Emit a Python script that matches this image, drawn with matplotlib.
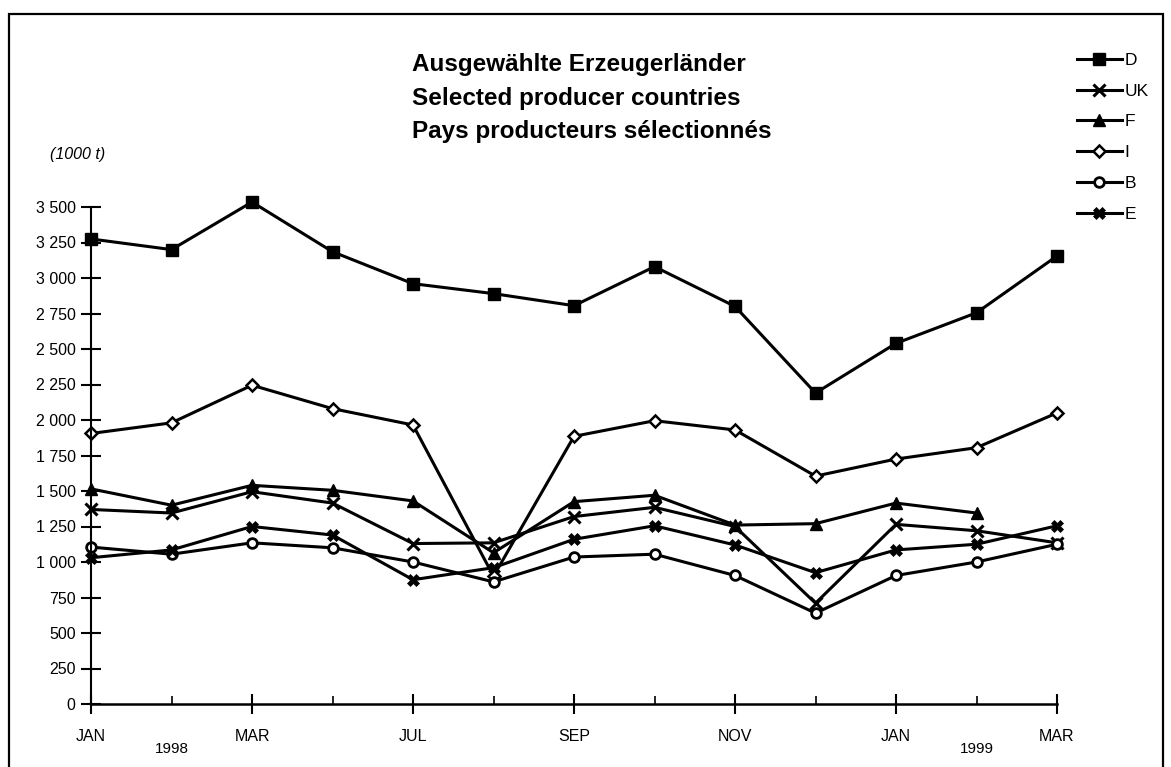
import numpy as np
import matplotlib
matplotlib.use("Agg")
import matplotlib.pyplot as plt
from matplotlib.patches import Rectangle
from matplotlib.ticker import FuncFormatter, FixedLocator

plt.rcParams['font.family'] = ['Liberation Sans', 'DejaVu Sans']

# ===== Data (1000 t) =====
month_labels = ["JAN", "MAR", "JUL", "SEP", "NOV", "JAN", "MAR"]
year_labels = {1: "1998", 11: "1999"}
x = np.arange(13)

D = [3275, 3200, 3535, 3185, 2960, 2890, 2805, 3080, 2800, 2190, 2540, 2755, 3155]
UK = [1370, 1345, 1495, 1415, 1130, 1135, 1320, 1385, 1250, 710, 1265, 1220, 1135]
F = [1515, 1400, 1540, 1505, 1430, 1065, 1425, 1470, 1260, 1270, 1415, 1345, np.nan]
I = [1905, 1980, 2245, 2080, 1965, 900, 1885, 1995, 1930, 1605, 1725, 1805, 2050]
B = [1105, 1055, 1135, 1100, 1000, 860, 1035, 1055, 905, 640, 905, 1000, 1125]
E = [1030, 1085, 1250, 1190, 875, 960, 1160, 1255, 1120, 925, 1085, 1125, 1255]

W, H = 1171, 767
fig = plt.figure(figsize=(W / 100, H / 100), dpi=100)
fig.patch.set_facecolor("white")

# axes placed in pixel coordinates of the reference
x0, x1 = 91, 1057
y0, y1 = 704, 207
ax = fig.add_axes([x0 / W, 1 - y0 / H, (x1 - x0) / W, (y0 - y1) / H])
ax.set_xlim(0, 12)
ax.set_ylim(0, 3500)

lw = 2.2
series = [
    ("D", D, dict(marker="s", ms=8, mfc="black", mec="black")),
    ("UK", UK, dict(marker="x", ms=8, mew=2.2, mec="black")),
    ("F", F, dict(marker="^", ms=8, mfc="black", mec="black")),
    ("I", I, dict(marker="D", ms=6, mfc="white", mec="black", mew=1.8)),
    ("B", B, dict(marker="o", ms=7, mfc="white", mec="black", mew=2.0)),
    ("E", E, dict(marker="X", ms=9, mfc="black", mec="black", mew=0.5)),
]
handles = []
for name, vals, style in series:
    h, = ax.plot(x, vals, color="black", lw=lw, label=name, clip_on=False, **style)
    handles.append(h)

# ===== Axes styling =====
for s in ["top", "right"]:
    ax.spines[s].set_visible(False)
ax.spines["left"].set_linewidth(1.5)
ax.spines["bottom"].set_linewidth(1.8)

ax.set_yticks(np.arange(0, 3501, 250))
ax.yaxis.set_major_formatter(FuncFormatter(lambda v, p: f"{int(v):,}".replace(",", " ")))
ax.tick_params(axis="y", direction="inout", length=14, width=1.5, labelsize=11.5, pad=4)

ax.xaxis.set_major_locator(FixedLocator(range(0, 13, 2)))
ax.xaxis.set_minor_locator(FixedLocator(range(1, 13, 2)))
ax.set_xticklabels(month_labels)
ax.tick_params(axis="x", which="major", direction="inout", length=14, width=1.5,
               labelsize=11.5, pad=11)
ax.tick_params(axis="x", which="minor", direction="in", length=6, width=1.2)
for i, yr in year_labels.items():
    ax.text(i, -320, yr, ha="center", va="center", fontsize=11)

# ===== Titles =====
titles = ["Ausgewählte Erzeugerländer", "Selected producer countries",
          "Pays producteurs sélectionnés"]
for k, t in enumerate(titles):
    fig.text(412 / W, 1 - (71 + 33.5 * k) / H, t, ha="left", va="baseline",
             fontsize=17.5, fontweight="bold")

fig.text(50 / W, 1 - 154 / H, "(1000 t)", ha="left", va="center",
         fontsize=11.5, style="italic")

# ===== Legend =====
fig.legend(handles=handles, loc="upper left", bbox_to_anchor=(1068 / W, 1 - 44 / H),
           frameon=False, fontsize=12.5, labelspacing=0.9, handlelength=2.6,
           handletextpad=0.15, borderpad=0)

# ===== Outer frame =====
fig.add_artist(Rectangle((9 / W, -0.05), (1163 - 9) / W, 1.05 - 14 / H,
                         transform=fig.transFigure, fill=False, lw=1.6,
                         edgecolor="black", clip_on=False))

fig.savefig("out.png", dpi=100)
